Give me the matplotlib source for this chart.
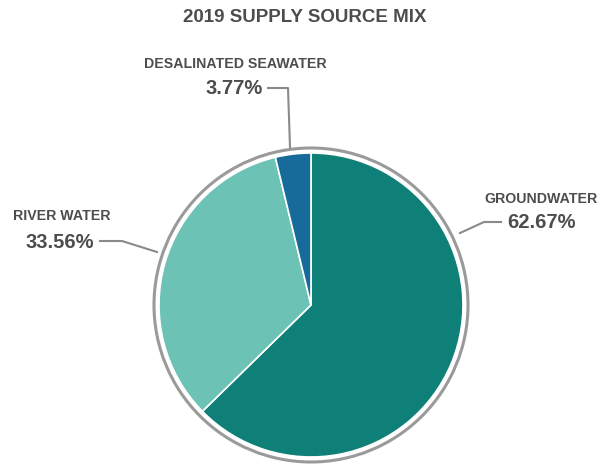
import matplotlib
matplotlib.use("Agg")
import matplotlib.pyplot as plt
from matplotlib.patches import Circle

# data
sources = ["GROUNDWATER", "RIVER WATER", "DESALINATED SEAWATER"]
shares = [62.67, 33.56, 3.77]
colors = ["#0f8077", "#6cc3b5", "#176b9a"]

TXT = "#4d4d4d"
H = 466

fig = plt.figure(figsize=(5.97, 4.66), dpi=100)
ax = fig.add_axes([0, 0, 1, 1])
ax.set_xlim(0, 597)
ax.set_ylim(0, H)
ax.set_aspect("equal")
ax.axis("off")

cx, cy, r = 311, H - 305, 152
ax.pie(shares, colors=colors, startangle=90, counterclock=False,
       center=(cx, cy), radius=r,
       wedgeprops=dict(edgecolor="white", linewidth=1.2))
ax.add_patch(Circle((cx, cy), r + 5, fill=False, edgecolor="#9a9a9a", lw=2.2))
ax.set_xlim(0, 597)
ax.set_ylim(0, H)

ax.text(305, H - 18, "2019 SUPPLY SOURCE MIX", ha="center", va="center",
        fontsize=13.5, fontweight="bold", color=TXT, family="Liberation Sans")

pct_font = dict(family="Liberation Sans", fontweight="bold",
                fontsize=14.5, color=TXT)
lab_font = dict(family="Liberation Sans", fontweight="bold", fontsize=10.2, color=TXT)
line_kw = dict(color="#8a8a8a", lw=1.5)

# desalinated seawater
ax.text(235, H - 64, sources[2], ha="center", va="center", **lab_font)
ax.text(234, H - 88, f"{shares[2]:.2f}%", ha="center", va="center", **pct_font)
ax.plot([268, 288, 290], [H - 88, H - 88, H - 147], **line_kw)

# river water
ax.text(62, H - 216, sources[1], ha="center", va="center", **lab_font)
ax.text(60, H - 242, f"{shares[1]:.2f}%", ha="center", va="center", **pct_font)
ax.plot([100, 122, 157], [H - 241, H - 241, H - 252], **line_kw)

# groundwater
ax.text(541, H - 199, sources[0], ha="center", va="center", **lab_font)
ax.text(541, H - 222, f"{shares[0]:.2f}%", ha="center", va="center", **pct_font)
ax.plot([501, 484, 460], [H - 222, H - 222, H - 233], **line_kw)

fig.savefig("out.png", dpi=100, facecolor="white")
